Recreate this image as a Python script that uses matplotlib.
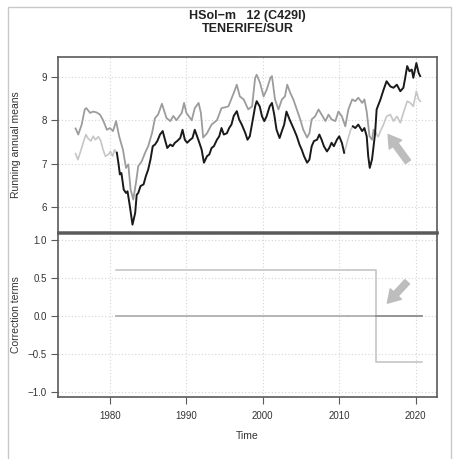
import numpy as np
import matplotlib
matplotlib.use("Agg")
import matplotlib.pyplot as plt
from matplotlib.patches import Rectangle

plt.rcParams['font.family'] = ['Liberation Sans', 'DejaVu Sans']

# ---------------- data ----------------
title_line1 = "HSol\u2212m   12 (C429I)"
title_line2 = "TENERIFE/SUR"

# original series (black), running annual means
orig1_years = [
    1980.9, 1981.1, 1981.3, 1981.5, 1981.8, 1982.1, 1982.3, 1982.6, 1982.95, 1983.3,
    1983.5, 1983.7, 1984.0, 1984.4, 1984.7, 1985.0, 1985.3, 1985.6, 1985.9, 1986.2,
    1986.55, 1986.9, 1987.2, 1987.5, 1987.9, 1988.2, 1988.5, 1988.8, 1989.2, 1989.5,
    1989.8, 1990.1, 1990.5, 1990.8, 1991.1, 1991.4, 1991.7, 1992.0, 1992.3, 1992.7,
    1993.0, 1993.3, 1993.6, 1994.0, 1994.3, 1994.6, 1994.9, 1995.3, 1995.6, 1995.9,
    1996.2, 1996.6, 1996.9, 1997.25, 1997.7, 1998.0, 1998.3, 1998.7, 1999.0, 1999.2,
    1999.6, 1999.9, 2000.2, 2000.5, 2000.9, 2001.2, 2001.5, 2001.8, 2002.2, 2002.5,
    2002.8, 2003.1, 2003.5, 2003.8, 2004.1, 2004.45, 2004.8, 2005.1, 2005.4, 2005.8,
    2006.1, 2006.4, 2006.7, 2007.1, 2007.4, 2007.7, 2008.0, 2008.4, 2008.7, 2009.0,
    2009.3, 2009.7, 2010.0, 2010.35, 2010.65]
orig1_values = [
    7.25, 7.02, 6.75, 6.78, 6.40, 6.32, 6.36, 6.02, 5.59, 5.86,
    6.28, 6.32, 6.48, 6.52, 6.71, 6.86, 7.09, 7.40, 7.44, 7.52,
    7.67, 7.75, 7.55, 7.36, 7.44, 7.40, 7.48, 7.52, 7.59, 7.78,
    7.55, 7.48, 7.55, 7.59, 7.78, 7.63, 7.48, 7.32, 7.02, 7.17,
    7.21, 7.36, 7.40, 7.55, 7.63, 7.82, 7.67, 7.70, 7.82, 7.90,
    8.10, 8.21, 8.02, 7.90, 7.71, 7.55, 7.63, 8.02, 8.32, 8.44,
    8.32, 8.09, 7.98, 8.09, 8.32, 8.40, 8.13, 7.78, 7.59, 7.75,
    7.90, 8.20, 8.02, 7.90, 7.78, 7.63, 7.44, 7.32, 7.17, 7.02,
    7.09, 7.40, 7.52, 7.55, 7.67, 7.55, 7.40, 7.28, 7.36, 7.48,
    7.40, 7.55, 7.63, 7.48, 7.25]

orig2_years = [
    2011.8, 2012.1, 2012.5, 2013.0, 2013.3, 2013.6, 2013.8, 2014.0, 2014.3, 2014.5,
    2014.7, 2014.9, 2015.4, 2015.8, 2016.2, 2016.7, 2017.1, 2017.55, 2018.0, 2018.4,
    2018.6, 2018.9, 2019.2, 2019.5, 2019.7, 2020.1, 2020.4, 2020.6]
orig2_values = [
    7.86, 7.82, 7.90, 7.75, 7.82, 7.63, 7.17, 6.90, 7.10, 7.40,
    7.70, 8.25, 8.48, 8.70, 8.90, 8.78, 8.75, 8.82, 8.67, 8.75,
    8.94, 9.25, 9.13, 9.17, 8.98, 9.32, 9.09, 9.02]

# filled (estimated) parts of the reference fragment (light grey)
fillA1_years = [1975.5, 1975.8, 1976.1, 1976.5, 1976.85, 1977.1, 1977.5, 1977.8, 1978.1,
                1978.5, 1978.8, 1979.1, 1979.4, 1979.8, 1980.05, 1980.35, 1980.6, 1980.9]
fillA1_values = [7.23, 7.09, 7.25, 7.48, 7.67, 7.59, 7.52, 7.63, 7.55,
                 7.62, 7.52, 7.32, 7.17, 7.21, 7.28, 7.17, 7.32, 7.25]
fillA2_years = [2010.65, 2010.9, 2011.2, 2011.5, 2011.8]
fillA2_values = [7.25, 7.40, 7.60, 7.78, 7.86]

# homogenized fragment before the break (mid grey)
homB1_years = [
    1975.5, 1975.85, 1976.3, 1976.7, 1976.9, 1977.4, 1977.8, 1978.25, 1978.7, 1979.1,
    1979.6, 1980.0, 1980.4, 1980.8, 1981.2, 1981.7, 1982.1, 1982.4, 1982.7, 1983.05,
    1983.4, 1983.7, 1984.15, 1984.6, 1985.0, 1985.5, 1985.9, 1986.3, 1986.8, 1987.4,
    1987.9, 1988.3, 1988.7, 1989.4, 1989.7, 1990.0, 1990.7, 1991.1, 1991.6, 1991.9,
    1992.2, 1992.7, 1993.3, 1994.0, 1994.6, 1995.1, 1995.5, 1996.2, 1996.6, 1997.0,
    1997.5, 1998.1, 1998.6, 1999.0, 1999.2, 1999.65, 2000.1, 2000.5, 2001.0, 2001.2,
    2001.6, 2002.05, 2002.5, 2002.9, 2003.2, 2003.6, 2004.0, 2004.45, 2004.9, 2005.3,
    2005.8, 2006.1, 2006.4, 2006.85, 2007.3, 2007.7, 2008.2, 2008.6, 2009.0, 2009.5,
    2009.9, 2010.35, 2010.8, 2011.2, 2011.7, 2012.1, 2012.5, 2013.0, 2013.3, 2013.6,
    2013.97, 2014.3, 2014.5, 2014.8]
homB1_values = [
    7.81, 7.67, 7.90, 8.25, 8.28, 8.17, 8.20, 8.18, 8.13, 8.00,
    7.78, 7.82, 7.75, 7.98, 7.63, 7.32, 6.90, 6.98, 6.40, 6.17,
    6.55, 6.94, 7.05, 7.25, 7.40, 7.70, 8.05, 8.13, 8.38, 8.05,
    7.98, 8.10, 8.00, 8.17, 8.40, 8.17, 8.00, 8.28, 8.40, 8.17,
    7.60, 7.70, 7.90, 8.00, 8.28, 8.30, 8.32, 8.63, 8.82, 8.55,
    8.48, 8.25, 8.32, 8.98, 9.05, 8.86, 8.55, 8.70, 8.98, 9.02,
    8.48, 8.25, 8.48, 8.55, 8.82, 8.63, 8.48, 8.25, 8.02, 7.78,
    7.60, 7.70, 8.02, 8.09, 8.25, 8.13, 7.98, 8.13, 8.02, 7.98,
    8.20, 8.09, 7.86, 8.25, 8.48, 8.44, 8.52, 8.40, 8.48, 8.20,
    7.63, 7.55, 7.78, 7.70]

# homogenized fragment after the break (light grey)
homB2_years = [2014.8, 2015.1, 2015.4, 2015.8, 2016.2, 2016.7, 2017.1, 2017.55,
               2018.0, 2018.4, 2018.9, 2019.3, 2019.7, 2020.1, 2020.4, 2020.6]
homB2_values = [7.70, 7.62, 7.75, 7.90, 8.09, 8.13, 7.98, 8.09,
                7.94, 8.17, 8.44, 8.40, 8.32, 8.67, 8.48, 8.44]

# correction terms
corr_zero_years = [1980.75, 2011.0, 2011.0, 2011.2, 2014.8]
corr_zero_values = [0.0, 0.0, np.nan, 0.0, 0.0]
corr_zero2_years = [2014.8, 2020.9]
corr_zero2_values = [0.0, 0.0]
corr_step_years = [1980.75, 2011.0, 2011.0, 2011.2, 2014.8, 2014.8, 2020.9]
corr_step_values = [0.6, 0.6, np.nan, 0.6, 0.6, -0.6, -0.6]

upper_yticks = [6, 7, 8, 9]
lower_yticks = [-1.0, -0.5, 0.0, 0.5, 1.0]
xticks = [1980, 1990, 2000, 2010, 2020]

# arrows (tail -> head)
arrow_up_tail, arrow_up_head = (2019.0, 7.04), (2016.4, 7.67)
arrow_lo_tail, arrow_lo_head = (2018.9, 0.45), (2016.3, 0.17)

# ---------------- styling ----------------
W, H = 457, 459
fig = plt.figure(figsize=(W / 100, H / 100), dpi=100)
fig.patch.set_facecolor('white')

# outer frame of the screenshot
fig.add_artist(Rectangle((8 / W, -0.05), 443 / W, 1.05 - 7 / H, transform=fig.transFigure,
                         fill=False, edgecolor='#c8c8c8', linewidth=1.0))

left, width = 58 / W, 379 / W
ax1 = fig.add_axes([left, 1 - 232 / H, width, 175 / H])
ax2 = fig.add_axes([left, 1 - 397 / H, width, 164 / H])

spine_col = '#5a5a5a'
grid_col = '#d4d4d4'
tick_fs = 7
xlim = (1973.2, 2022.8)

for ax in (ax1, ax2):
    for s in ax.spines.values():
        s.set_color(spine_col)
        s.set_linewidth(1.2)
    ax.set_xlim(*xlim)
    ax.set_xticks(xticks)
    ax.grid(True, color=grid_col, linestyle=(0, (1, 2)), linewidth=0.8)
    ax.set_axisbelow(True)
    ax.tick_params(axis='y', direction='out', length=5, width=0.8, color=spine_col,
                   labelsize=tick_fs, labelcolor='#333333', pad=3)
    ax.tick_params(axis='x', direction='out', length=5, width=0.8, color=spine_col,
                   labelsize=tick_fs, labelcolor='#333333', pad=5)

ax1.tick_params(axis='x', bottom=False, labelbottom=False)
ax1.spines['bottom'].set_linewidth(1.8)
ax2.spines['top'].set_linewidth(1.8)

c_black = '#1a1a1a'
c_mid = '#9c9c9c'
c_light = '#c6c6c6'

# upper panel
ax1.plot(fillA1_years, fillA1_values, color=c_light, lw=1.2)
ax1.plot(fillA2_years, fillA2_values, color=c_light, lw=1.2)
ax1.plot(homB1_years, homB1_values, color=c_mid, lw=1.3)
ax1.plot(homB2_years, homB2_values, color=c_light, lw=1.2)
ax1.plot(orig1_years, orig1_values, color=c_black, lw=1.4)
ax1.plot(orig2_years, orig2_values, color=c_black, lw=1.4)
ax1.set_ylim(5.42, 9.46)
ax1.set_yticks(upper_yticks)
ax1.set_yticklabels([str(v) for v in upper_yticks])
ax1.set_ylabel("Running annual means", fontsize=7.5, color='#333333')
ax1.yaxis.set_label_coords(-0.098, 0.5)

ax1.annotate('', xy=arrow_up_head, xytext=arrow_up_tail,
             arrowprops=dict(arrowstyle='simple,head_length=0.9,head_width=1.1,tail_width=0.45',
                             color='#bdbdbd', mutation_scale=10, shrinkA=0, shrinkB=0))

# lower panel
ax2.plot(corr_step_years, corr_step_values, color=c_light, lw=1.2)
ax2.plot(corr_zero_years, corr_zero_values, color='#b0b0b0', lw=1.3)
ax2.plot(corr_zero2_years, corr_zero2_values, color='#8c8c8c', lw=1.3)
ax2.set_ylim(-1.06, 1.09)
ax2.set_yticks(lower_yticks)
ax2.set_yticklabels([f"{v:.1f}".replace('-', '\u2212') for v in lower_yticks])
ax2.set_xticklabels([str(v) for v in xticks])
ax2.set_ylabel("Correction terms", fontsize=7.5, color='#333333')
ax2.yaxis.set_label_coords(-0.098, 0.5)
ax2.set_xlabel("Time", fontsize=7.5, color='#333333', labelpad=7)

ax2.annotate('', xy=arrow_lo_head, xytext=arrow_lo_tail,
             arrowprops=dict(arrowstyle='simple,head_length=0.9,head_width=1.1,tail_width=0.45',
                             color='#bdbdbd', mutation_scale=10, shrinkA=0, shrinkB=0))

# title
cx = (58 + 437) / 2 / W
fig.text(cx, 1 - 16 / H, title_line1, ha='center', va='center', fontsize=9,
         fontweight='bold', color='#222222')
fig.text(cx, 1 - 29 / H, title_line2, ha='center', va='center', fontsize=9,
         fontweight='bold', color='#222222')

fig.savefig('out.png', dpi=100, facecolor='white')
